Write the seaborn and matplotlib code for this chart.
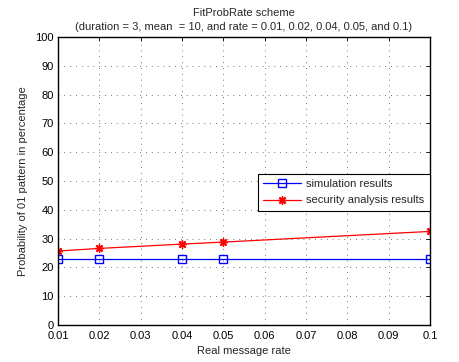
import matplotlib
matplotlib.use("Agg")
import matplotlib.pyplot as plt
import seaborn as sns

# Message rates and measured probabilities of the "01" pattern (%)
rates = [0.01, 0.02, 0.04, 0.05, 0.1]
simulation = [23.0, 23.0, 23.0, 23.0, 23.0]
analysis = [25.7, 26.6, 28.1, 28.8, 32.5]
x_ticks = [0.01, 0.02, 0.03, 0.04, 0.05, 0.06, 0.07, 0.08, 0.09, 0.1]
x_tick_labels = ["0.01", "0.02", "0.03", "0.04", "0.05", "0.06", "0.07", "0.08", "0.09", "0.1"]
y_ticks = list(range(0, 101, 10))

sns.set_style("white")
plt.rcParams['font.family'] = ['Liberation Sans', 'DejaVu Sans']

fig = plt.figure(figsize=(4.6, 3.62), dpi=100)
ax = fig.add_axes([0.126, 0.102, 0.809, 0.796])

sns.lineplot(x=rates, y=simulation, color="#0000ff", marker="s", markersize=5.5,
             markerfacecolor="none", markeredgecolor="#0000ff", markeredgewidth=1.0,
             linewidth=0.9, label="simulation results", ax=ax)
sns.lineplot(x=rates, y=analysis, color="#ff0000", marker=(8, 2, 0), markersize=6,
             markeredgecolor="#ff0000", markeredgewidth=1.0,
             linewidth=0.9, label="security analysis results", ax=ax)

ax.set_xlim(0.01, 0.1)
ax.set_ylim(0, 100)
ax.set_xticks(x_ticks)
ax.set_xticklabels(x_tick_labels)
ax.set_yticks(y_ticks)
ax.tick_params(axis="both", direction="in", length=3, labelsize=8, width=0.6,
               top=True, right=True, colors="black")
ax.tick_params(axis="x", pad=4)
ax.tick_params(axis="y", pad=3)
ax.grid(True, linestyle=(0, (1, 6)), color="#444444", linewidth=0.6)
for s in ax.spines.values():
    s.set_color("black")
    s.set_linewidth(1.0)

ax.set_xlabel("Real message rate", fontsize=8, labelpad=4)
ax.set_ylabel("Probability of 01 pattern in percentage", fontsize=8, labelpad=5)
ax.set_title("FitProbRate scheme\n(duration = 3, mean  = 10, and rate = 0.01, 0.02, 0.04, 0.05, and 0.1)",
             fontsize=8, pad=5, linespacing=1.45)

leg = ax.legend(loc="upper right", bbox_to_anchor=(1.0, 0.525), fontsize=8,
                frameon=True, fancybox=False, edgecolor="black", framealpha=1,
                handlelength=3.4, borderpad=0.5, labelspacing=0.55, handletextpad=0.5,
                borderaxespad=0)
leg.get_frame().set_linewidth(0.8)

fig.savefig("out.png", dpi=100)
